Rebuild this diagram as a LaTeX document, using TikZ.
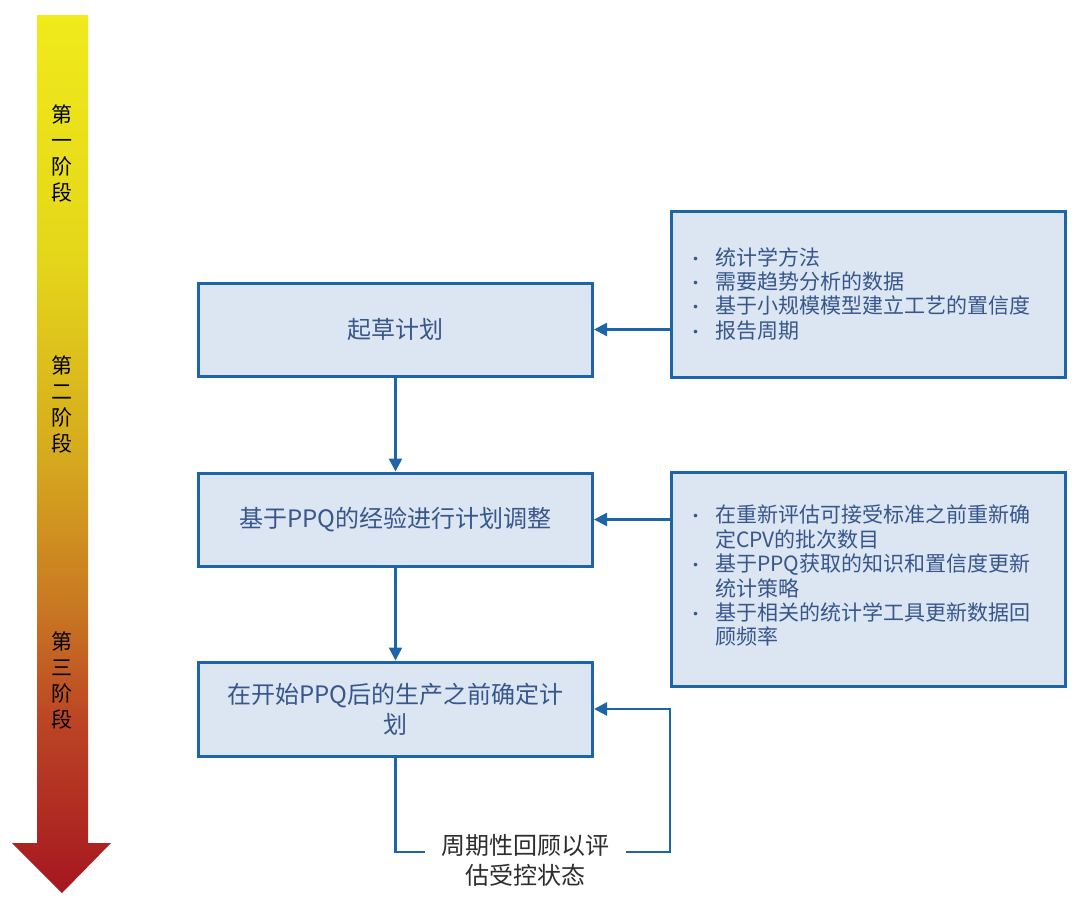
\documentclass[tikz,border=0pt]{standalone}
\usepackage{fontspec}
\setmainfont{Noto Sans CJK SC}
\usetikzlibrary{arrows.meta}
\definecolor{boxfill}{RGB}{220,230,242}
\definecolor{boxline}{RGB}{30,100,168}
\definecolor{boxtext}{RGB}{55,86,140}
\definecolor{graytext}{RGB}{45,45,45}
\definecolor{arrA}{RGB}{166,22,32}
\definecolor{arrB}{RGB}{188,70,36}
\definecolor{arrC}{RGB}{200,118,34}
\definecolor{arrD}{RGB}{214,170,30}
\definecolor{arrE}{RGB}{228,214,26}
\definecolor{arrF}{RGB}{240,234,26}
\pgfdeclareverticalshading{stagearrow}{100bp}{color(0bp)=(arrA); color(25bp)=(arrA); color(35bp)=(arrB); color(41bp)=(arrC); color(50bp)=(arrD); color(61bp)=(arrE); color(75bp)=(arrF); color(100bp)=(arrF)}
\tikzset{
  mainbox/.style={draw=boxline, line width=3bp, fill=boxfill, minimum width=394bp, inner sep=0pt, text=boxtext, font=\fontsize{24bp}{30bp}\selectfont, align=center},
  sidebox/.style={draw=boxline, line width=3bp, fill=boxfill, minimum width=394bp, inner sep=0pt, text=boxtext},
  listtext/.style={anchor=north west, inner sep=0pt, text=boxtext, font=\fontsize{21bp}{24.4bp}\selectfont, align=left},
  conn/.style={draw=boxline, line width=2.5bp},
  tip/.style={-{Triangle[length=13bp,width=13bp]}},
  stagelabel/.style={font=\fontsize{21bp}{26bp}\selectfont, align=center, text=black, inner sep=0pt},
  fbtext/.style={font=\fontsize{24bp}{30bp}\selectfont, align=center, text=graytext, inner sep=0pt}
}
\newcommand{\bitem}{\makebox[28bp][l]{{\fontsize{17bp}{17bp}\selectfont\textbullet}}}
\newcommand{\bcont}{\hspace*{28bp}}
\begin{document}
\begin{tikzpicture}[x=1bp,y=-1bp]
\useasboundingbox (0,0) rectangle (1080,908);
\fill[white] (0,0) rectangle (1080,908);
% stage arrow
\shade[shading=stagearrow] (37,15) -- (88,15) -- (88,843) -- (111,843) -- (62,893) -- (12,843) -- (37,843) -- cycle;
\node[stagelabel] (s1) at (62,154) {第\\一\\阶\\段};
\node[stagelabel] (s2) at (62,405) {第\\二\\阶\\段};
\node[stagelabel] (s3) at (62,681) {第\\三\\阶\\段};
% main boxes
\node[mainbox, minimum height=93bp] (b1) at (395.5,329.5) {起草计划};
\node[mainbox, minimum height=93bp] (b2) at (395.5,519.5) {基于PPQ的经验进行计划调整};
\node[mainbox, minimum height=94bp, text width=360bp] (b3) at (395.5,709) {在开始PPQ后的生产之前确定计\\划};
% side boxes
\node[sidebox, minimum height=166bp] (r1) at (868.5,294) {};
\node[sidebox, minimum height=214bp] (r2) at (868.5,579) {};
\node[listtext] (t1) at (687,247) {%
\bitem 统计学方法\\
\bitem 需要趋势分析的数据\\
\bitem 基于小规模模型建立工艺的置信度\\
\bitem 报告周期};
\node[listtext] (t2) at (687,505) {%
\bitem 在重新评估可接受标准之前重新确\\
\bcont 定CPV的批次数目\\
\bitem 基于PPQ获取的知识和置信度更新\\
\bcont 统计策略\\
\bitem 基于相关的统计学工具更新数据回\\
\bcont 顾频率};
% connectors
\draw[conn, tip] (b1.east -| r1.west) -- (b1.east);
\draw[conn, tip] (b2.east -| r2.west) -- (b2.east);
\draw[conn, tip] (b1.south) -- (b2.north);
\draw[conn, tip] (b2.south) -- (b3.north);
% feedback loop
\node[fbtext] (fb) at (525,860) {周期性回顾以评\\估受控状态};
\coordinate (la) at (425,852);
\coordinate (lb) at (626,852);
\coordinate (lc) at (670,852);
\draw[conn] (b3.south) |- (la);
\draw[conn, tip] (lb) -- (lc) |- (b3.east);
\end{tikzpicture}
\end{document}
